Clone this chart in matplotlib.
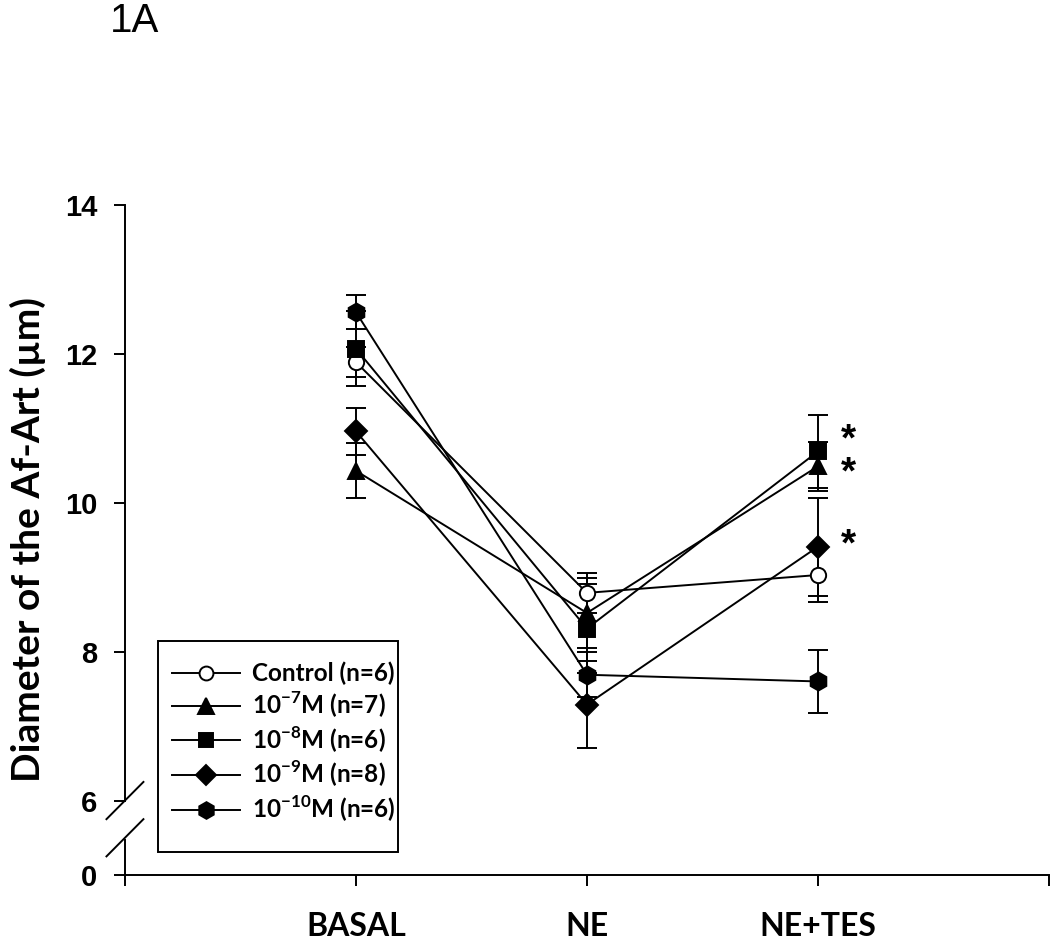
import matplotlib
matplotlib.use("Agg")
import matplotlib.pyplot as plt
from matplotlib.lines import Line2D
from matplotlib.patches import Rectangle

plt.rcParams['font.family'] = ['Lato', 'DejaVu Sans']
plt.rcParams['mathtext.fontset'] = 'custom'
plt.rcParams['mathtext.rm'] = 'Lato'
plt.rcParams['mathtext.bf'] = 'Lato:bold'

# data (diameter in um, mean and SE)
categories = ['BASAL', 'NE', 'NE+TES']
control = [11.89, 8.79, 9.03]
control_se = [0.20, 0.27, 0.36]
m7 = [10.43, 8.52, 10.49]
m7_se = [0.37, 0.47, 0.33]
m8 = [12.07, 8.31, 10.69]
m8_se = [0.50, 0.60, 0.49]
m9 = [10.96, 7.29, 9.41]
m9_se = [0.32, 0.58, 0.66]
m10 = [12.56, 7.69, 7.60]
m10_se = [0.23, 0.30, 0.42]

labels = [
    'Control (n=6)',
    r'10$^{\mathbf{-7}}$M (n=7)',
    r'10$^{\mathbf{-8}}$M (n=6)',
    r'10$^{\mathbf{-9}}$M (n=8)',
    r'10$^{\mathbf{-10}}$M (n=6)',
]
# significance stars at NE+TES (square, triangle, diamond)
star_y = [10.84, 10.40, 9.42]

fig = plt.figure(figsize=(10.5, 9.44), dpi=100)
ax = fig.add_axes([0.119, 0.0731, 0.880, 0.7097])

x = [1, 2, 3]
series = [
    (control, control_se, 'o', 'white', 11),
    (m7, m7_se, '^', 'black', 12),
    (m8, m8_se, 's', 'black', 11),
    (m9, m9_se, 'D', 'black', 11),
    (m10, m10_se, 'h', 'black', 13),
]
handles = []
for (vals, se, mk, fc, ms), lab in zip(series, labels):
    ax.errorbar(x, vals, yerr=se, fmt='-', color='black', lw=1.4,
                marker=mk, markerfacecolor=fc, markeredgecolor='black',
                markeredgewidth=1.4, ms=ms, capsize=7, capthick=1.4,
                elinewidth=1.4)
    handles.append(Line2D([], [], color='black', lw=1.4, marker=mk,
                          markerfacecolor=fc, markeredgecolor='black',
                          markeredgewidth=1.4, ms=ms - 1, label=lab))

for yy in star_y:
    ax.text(3.1, yy, '*', fontsize=28, fontweight='bold',
            family='Liberation Sans', ha='left', va='center')

ax.set_xlim(0, 4)
ax.set_ylim(5, 14)
ax.set_xticks([0, 1, 2, 3, 4])
ax.set_xticklabels([''] + categories + [''], fontsize=23, fontweight='bold')
ax.set_yticks([5, 6, 8, 10, 12, 14])
ax.set_yticklabels(['0', '6', '8', '10', '12', '14'], fontsize=21,
                   fontweight='bold', family='Liberation Sans')
ax.tick_params(axis='y', direction='out', length=8, width=1.4, pad=12)
ax.tick_params(axis='x', direction='out', length=8, width=1.4, pad=19)

for s in ['top', 'right', 'left']:
    ax.spines[s].set_visible(False)
ax.spines['bottom'].set_linewidth(1.4)

# broken y axis
ax.plot([0, 0], [6.0, 14], color='black', lw=1.4, clip_on=False)
ax.plot([0, 0], [5.0, 5.47], color='black', lw=1.4, clip_on=False)
ax.plot([-0.08, 0.08], [5.75, 6.25], color='black', lw=1.4, clip_on=False)
ax.plot([-0.08, 0.08], [5.25, 5.75], color='black', lw=1.4, clip_on=False)

fig.text(0.027, 0.429, 'Diameter of the Af-Art (\u00b5m)', rotation=90,
         fontsize=28, fontweight='bold', ha='center', va='center')
fig.text(0.105, 0.966, '1A', fontsize=29, family='Liberation Sans',
         ha='left', va='baseline')

# legend box drawn separately, entries without frame
fig.patches.append(Rectangle((158 / 1050, 92 / 944), 240 / 1050, 211 / 944,
                             transform=fig.transFigure, fill=False,
                             edgecolor='black', lw=1.4))
ax.legend(handles=handles, loc='upper left',
          bbox_to_anchor=(172 / 1050, (944 - 662) / 944),
          bbox_transform=fig.transFigure, borderaxespad=0, frameon=False,
          prop={'weight': 'bold', 'size': 17.5}, handlelength=2.8,
          labelspacing=0.18, borderpad=0, handletextpad=0.5)

fig.savefig('out.png', dpi=100)
